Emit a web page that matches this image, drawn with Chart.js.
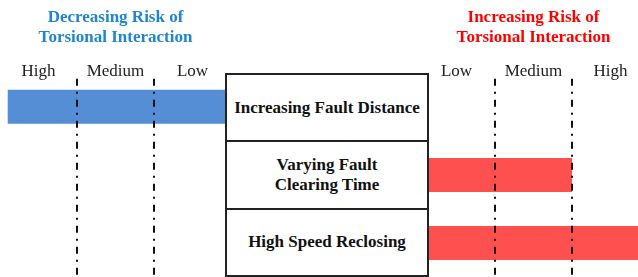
<!DOCTYPE html>
<html>
<head>
  <title>Torsional interaction risk</title>
  <script src="https://cdn.jsdelivr.net/npm/chart.js"></script>
  <style>
    body { margin: 0; overflow: hidden; background: #fff; }
    #wrap { position: relative; width: 638px; height: 277px; overflow: hidden; }
    #leftChart { position: absolute; left: 0; top: 0; }
    #rightChart { position: absolute; left: 418px; top: 0; }
    #factorBox {
      position: absolute; left: 225px; top: 73px; width: 204px; height: 204px;
      box-sizing: border-box; border: 2px solid #222; background: #fff;
      display: flex; flex-direction: column;
    }
    .cell {
      flex: 1; display: flex; align-items: center; justify-content: center; text-align: center;
      font: bold 17px 'Liberation Serif', 'Times New Roman', serif; line-height: 20px; color: #111;
    }
    .cell + .cell { border-top: 2px solid #222; }
  </style>
</head>
<body>
  <div id="wrap">
    <canvas id="leftChart" width="231" height="277"></canvas>
    <canvas id="rightChart" width="231" height="277"></canvas>
    <div id="factorBox"></div>
  </div>

  <script>
    // rows of the diagram
    const factors = [['Increasing Fault Distance'], ['Varying Fault', 'Clearing Time'], ['High Speed Reclosing']];
    // how far each bar reaches on the risk scale (0 = box edge, 3 = High end)
    const decreasingRisk = [2.9, null, null];
    const increasingRisk = [null, 2, 3];
    // risk levels, outward from the box
    const levelLabels = ['Low', 'Medium', 'High'];
    const levelCenters = [0.5, 1.5, 2.5];
    const levelBounds = [1, 2];

    Chart.defaults.font.family = "'Liberation Serif', 'Times New Roman', serif";

    const levelLines = {
      id: 'levelLines',
      afterDatasetsDraw(chart) {
        const { ctx, chartArea: a, scales: { x } } = chart;
        ctx.save();
        ctx.strokeStyle = '#111';
        ctx.lineWidth = 2;
        ctx.setLineDash([7, 6, 2, 6]);
        ctx.lineDashOffset = 15;
        levelBounds.forEach(v => {
          const px = Math.round(x.getPixelForValue(v));
          ctx.beginPath();
          ctx.moveTo(px, a.top);
          ctx.lineTo(px, a.bottom);
          ctx.stroke();
        });
        ctx.restore();
      }
    };

    const sideChart = (id, values, color, title, titleColor, reverse) => new Chart(document.getElementById(id), {
      type: 'bar',
      data: {
        labels: factors,
        datasets: [{
          data: values,
          backgroundColor: color,
          borderWidth: 0,
          barPercentage: 0.5,
          categoryPercentage: 1
        }]
      },
      options: {
        indexAxis: 'y',
        responsive: false,
        animation: false,
        layout: { padding: 0 },
        plugins: {
          legend: { display: false },
          tooltip: { enabled: false },
          title: {
            display: true,
            text: title,
            color: titleColor,
            font: { size: 17, weight: 'bold' },
            padding: { top: 7, bottom: 25 }
          }
        },
        scales: {
          x: {
            position: 'top',
            reverse: reverse,
            min: 0,
            max: 3,
            grid: { display: false, drawTicks: false },
            border: { display: false },
            afterBuildTicks: s => { s.ticks = levelCenters.map(v => ({ value: v })); },
            ticks: {
              mirror: true,
              padding: -3.7,
              autoSkip: false,
              maxRotation: 0,
              color: '#222',
              font: { size: 17 },
              callback: (v, i) => levelLabels[i]
            }
          },
          y: { display: false }
        }
      },
      plugins: [levelLines]
    });

    sideChart('leftChart', decreasingRisk, '#558ed5',
      ['Decreasing Risk of', 'Torsional Interaction'], '#1f84d4', true);
    sideChart('rightChart', increasingRisk, '#ff5050',
      ['Increasing Risk of', 'Torsional Interaction'], '#ff0000', false);

    document.getElementById('factorBox').innerHTML =
      factors.map(f => '<div class="cell">' + f.join('<br>') + '</div>').join('');
  </script>
</body>
</html>
